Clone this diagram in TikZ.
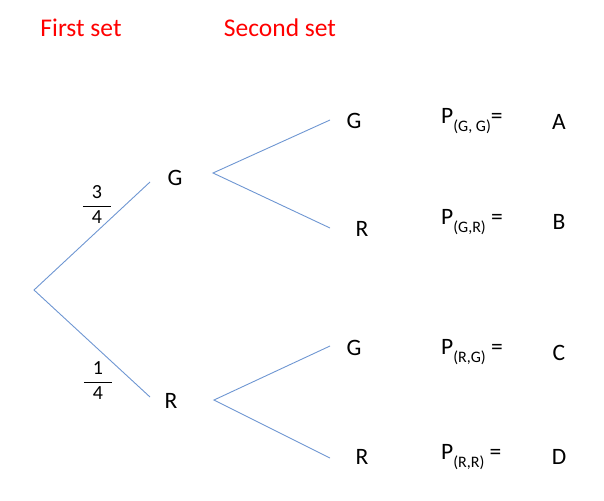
\documentclass[tikz,border=0pt]{standalone}
\usepackage{fontspec}
\setmainfont{Carlito}
\begin{document}
\begin{tikzpicture}[x=1pt,y=-1pt]
\definecolor{lineblue}{RGB}{110,150,210}
\tikzset{
  branch/.style={draw=lineblue, line width=0.9pt},
  lbl/.style={font=\fontsize{23.5}{27}\selectfont, inner sep=0pt},
  hdr/.style={font=\fontsize{25.5}{30}\selectfont, text=red, inner sep=0pt},
  frac/.style={font=\fontsize{20}{23}\selectfont, inner sep=0pt}}
\useasboundingbox (0,0) rectangle (604,500);
% headers
\node[hdr] (h1) at (81,28) {First set};
\node[hdr] (h2) at (280,28) {Second set};
% tree points
\coordinate (root) at (34,290);
\coordinate (gA) at (150,182);
\coordinate (rA) at (150,397);
\coordinate (gV) at (213,173);
\coordinate (rV) at (214,400);
\coordinate (gg) at (330,120);
\coordinate (gr) at (330,228);
\coordinate (rg) at (330,346);
\coordinate (rr) at (330,458);
\draw[branch] (gA) -- (root) -- (rA);
\draw[branch] (gg) -- (gV) -- (gr);
\draw[branch] (rg) -- (rV) -- (rr);
% first level labels
\node[lbl] (G1) at (175,178) {G};
\node[lbl] (R1) at (171,401) {R};
\newcommand{\myfrac}[2]{\setlength\tabcolsep{9pt}\setlength\arrayrulewidth{0.8pt}\renewcommand\arraystretch{1.05}\begin{tabular}{c}#1\\\hline #2\end{tabular}}
\node[frac] (f1) at (97,206) {\myfrac{3}{4}};
\node[frac] (f2) at (98,382) {\myfrac{1}{4}};
% second level labels
\node[lbl] (G2) at (354,121) {G};
\node[lbl] (R2) at (362,229) {R};
\node[lbl] (G3) at (354,348) {G};
\node[lbl] (R3) at (362,457) {R};
% probability labels
\newcommand{\pl}[1]{P\raisebox{-0.35em}{\fontsize{16}{18}\selectfont #1}}
\node[lbl, anchor=west] (p1) at (441,121) {\pl{(G, G)}=};
\node[lbl, anchor=west] (p2) at (441,222) {\pl{(G,R)} =};
\node[lbl, anchor=west] (p3) at (441,352) {\pl{(R,G)} =};
\node[lbl, anchor=west] (p4) at (441,457) {\pl{(R,R)} =};
\node[lbl] (A) at (559,122) {A};
\node[lbl] (B) at (559,222) {B};
\node[lbl] (C) at (559,353) {C};
\node[lbl] (D) at (559,457) {D};
\end{tikzpicture}
\end{document}
